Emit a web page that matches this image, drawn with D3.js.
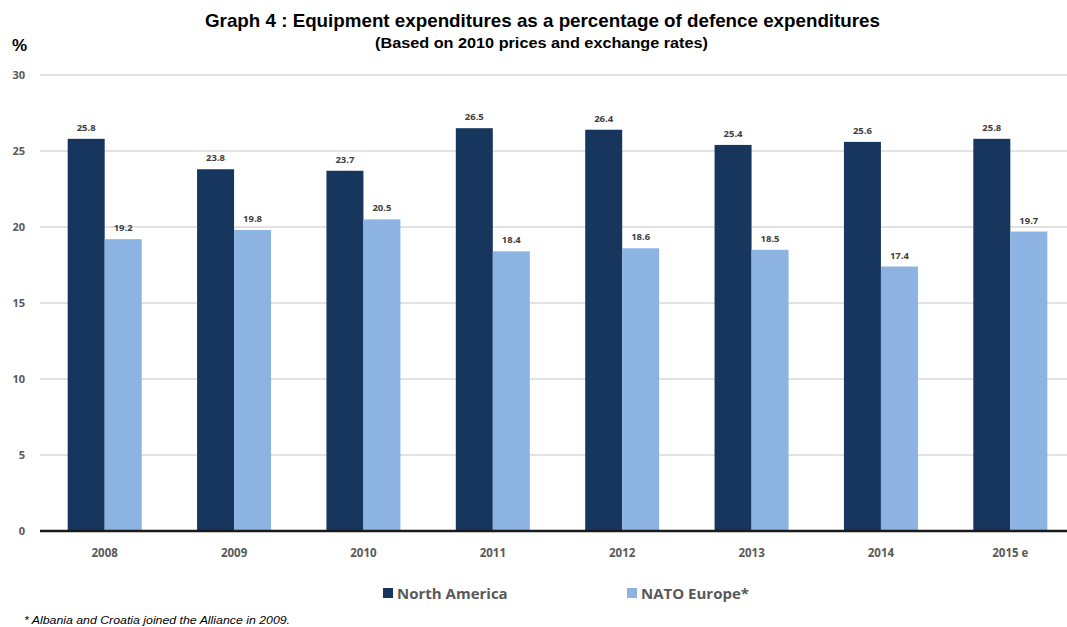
<!DOCTYPE html>
<html><head><meta charset="utf-8">
<script src="https://cdn.jsdelivr.net/npm/d3@7"></script>
<style>body{margin:0;background:#fff;}</style>
</head><body>
<svg id="c" width="1067" height="627"></svg>
<script>
const categories = ["2008","2009","2010","2011","2012","2013","2014","2015 e"];
const northAmerica = [25.8,23.8,23.7,26.5,26.4,25.4,25.6,25.8];
const natoEurope = [19.2,19.8,20.5,18.4,18.6,18.5,17.4,19.7];
const yTicks = [0,5,10,15,20,25,30];
const seriesNames = ["North America","NATO Europe*"];
const colors = ["#17365d","#8db3e2"];

const svg = d3.select("#c");
const x = d3.scaleBand().domain(categories).range([40,1075]).paddingInner(0.428).paddingOuter(0.214);
const x1 = d3.scaleBand().domain([0,1]).range([0,x.bandwidth()]);
const y = d3.scaleLinear().domain([0,30]).range([531,75]);

// grid
svg.append("g").selectAll("line").data(yTicks.filter(d=>d>0)).join("line")
  .attr("x1",40).attr("x2",1067).attr("y1",d=>y(d)).attr("y2",d=>y(d))
  .attr("stroke","#d9d9d9").attr("stroke-width",1.5);

// y labels
svg.append("g").selectAll("text").data(yTicks).join("text")
  .attr("x",25).attr("y",d=>y(d)+4).attr("text-anchor","end")
  .attr("font-family","Open Sans, sans-serif").attr("font-size",11).attr("font-weight","bold")
  .attr("fill","#595959").text(d=>d);

const series=[northAmerica,natoEurope];
series.forEach((vals,si)=>{
  const g=svg.append("g");
  g.selectAll("rect").data(vals).join("rect")
    .attr("x",(d,i)=>x(categories[i])+x1(si)).attr("width",x1.bandwidth())
    .attr("y",d=>y(d)).attr("height",d=>y(0)-y(d)).attr("fill",colors[si]);
  g.selectAll("text").data(vals).join("text")
    .attr("x",(d,i)=>x(categories[i])+x1(si)+x1.bandwidth()/2)
    .attr("y",d=>y(d)-8).attr("text-anchor","middle")
    .attr("font-family","Open Sans, sans-serif").attr("font-size",9.5).attr("font-weight","bold")
    .attr("fill","#404040").text(d=>d.toFixed(1));
});

// axis line
svg.append("line").attr("x1",40).attr("x2",1067).attr("y1",y(0)).attr("y2",y(0))
  .attr("stroke","#1a1a1a").attr("stroke-width",2.5);

// x labels
svg.append("g").selectAll("text").data(categories).join("text")
  .attr("x",d=>x(d)+x.bandwidth()/2).attr("y",557).attr("text-anchor","middle")
  .attr("font-family","Open Sans, sans-serif").attr("font-size",11.5).attr("font-weight","bold")
  .attr("fill","#595959").text(d=>d);

// title
svg.append("text").attr("x",205).attr("y",27)
  .attr("font-family","Liberation Sans, Arial, sans-serif").attr("font-size",19).attr("font-weight","bold")
  .attr("textLength",675).attr("lengthAdjust","spacingAndGlyphs")
  .attr("fill","#000").text("Graph 4 : Equipment expenditures as a percentage of defence expenditures");
svg.append("text").attr("x",375).attr("y",48)
  .attr("font-family","Liberation Sans, Arial, sans-serif").attr("font-size",14).attr("font-weight","bold")
  .attr("textLength",333).attr("lengthAdjust","spacingAndGlyphs")
  .attr("fill","#000").text("(Based on 2010 prices and exchange rates)");
svg.append("text").attr("x",12).attr("y",51)
  .attr("font-family","Liberation Sans, Arial, sans-serif").attr("font-size",17).attr("font-weight","bold")
  .attr("fill","#000").text("%");

// legend
const legX=[383,627];
seriesNames.forEach((n,i)=>{
  svg.append("rect").attr("x",legX[i]).attr("y",588).attr("width",10).attr("height",10).attr("fill",colors[i]);
  svg.append("text").attr("x",legX[i]+14).attr("y",599)
    .attr("font-family","Open Sans, sans-serif").attr("font-size",15).attr("font-weight","bold")
    .attr("fill","#595959").text(n);
});

// footnote
svg.append("text").attr("x",24).attr("y",624)
  .attr("font-family","Liberation Sans, Arial, sans-serif").attr("font-size",11).attr("font-style","italic")
  .attr("textLength",266).attr("lengthAdjust","spacingAndGlyphs")
  .attr("fill","#000").text("*  Albania and Croatia joined the Alliance in 2009.");
</script>
</body></html>
